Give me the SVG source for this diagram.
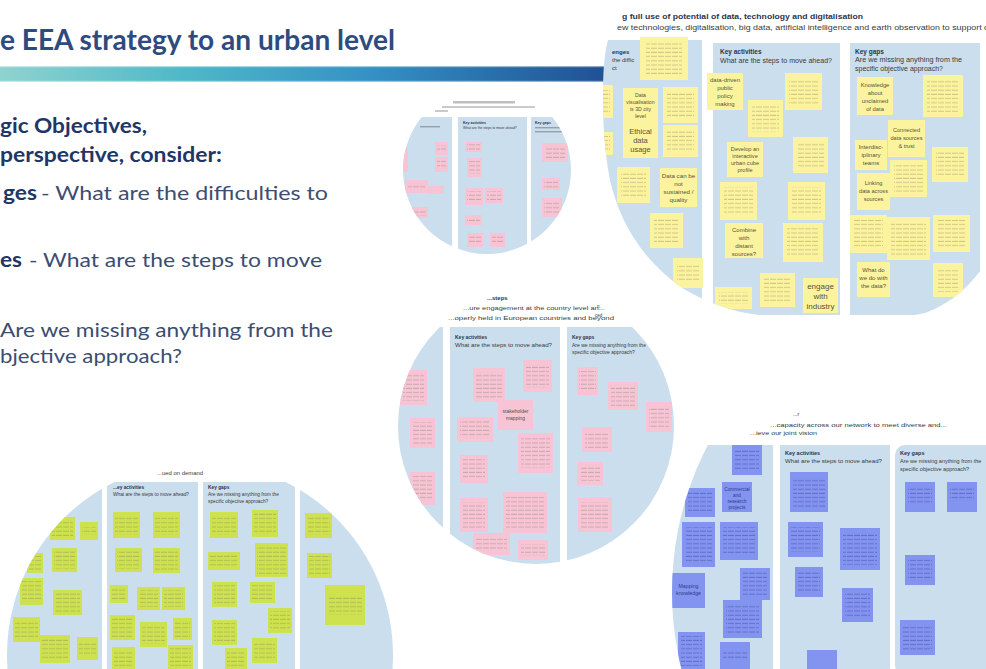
<svg xmlns="http://www.w3.org/2000/svg" width="986" height="669" viewBox="0 0 986 669">
  <defs>
    <style>
      .ttl{font-family:Lato,"Liberation Sans",sans-serif;font-weight:700;font-size:29px;fill:#2d4b7e}
      .bd{font-family:Lato,"Liberation Sans",sans-serif;font-weight:700;font-size:20px;fill:#1f3666}
      .rg{font-family:Lato,"Liberation Sans",sans-serif;font-weight:400;font-size:20px;fill:#3c4d72}
      .pn{fill:#cadeed}
      .ny{fill:#fcf39e}
      .np{fill:#f6c4d4}
      .ng{fill:#cde24e}
      .nb{fill:#8394f0}
      .sc{fill:url(#scr)}
      .sb{fill:url(#scrb)}
      .hd{font-family:"Liberation Sans",Arial,sans-serif;fill:#3a3a3a}
      .hb{font-family:"Liberation Sans",Arial,sans-serif;fill:#2a3550;font-weight:700}
      .nt{font-family:"Liberation Sans",Arial,sans-serif;fill:#55533a;text-anchor:middle}
      .ntb{font-family:"Liberation Sans",Arial,sans-serif;fill:#2f3a8a;text-anchor:middle}
    </style>
    <linearGradient id="bar" x1="0" y1="0" x2="1" y2="0">
      <stop offset="0" stop-color="#8fd3cf"/>
      <stop offset="0.3" stop-color="#4fb8c8"/>
      <stop offset="0.6" stop-color="#3592c4"/>
      <stop offset="1" stop-color="#1f4f92"/>
    </linearGradient>
    <!-- faint line texture standing in for unreadable handwriting on notes -->
    <pattern id="scr" width="7" height="4.2" patternUnits="userSpaceOnUse">
      <rect x="0" y="1.5" width="6" height="0.9" fill="#77775f" opacity="0.4"/>
    </pattern>
    <pattern id="scrb" width="7" height="4.2" patternUnits="userSpaceOnUse">
      <rect x="0" y="1.5" width="6" height="0.9" fill="#2c3a8c" opacity="0.45"/>
    </pattern>
    <clipPath id="c1">
      <path d="M630,0 L986,0 L986,262 C972,285 952,303 925,313 L915,315 L760,315 C735,313 705,302 682,288 C645,262 620,225 610,180 C604,150 603,120 603,95 C603,55 606,25 630,0 Z"/>
    </clipPath>
    <clipPath id="c2"><circle cx="487" cy="170" r="84"/></clipPath>
    <clipPath id="c3"><circle cx="536" cy="426" r="138"/></clipPath>
    <clipPath id="c4"><circle cx="992" cy="592" r="320"/></clipPath>
    <clipPath id="c5"><circle cx="200" cy="655" r="193"/></clipPath>
  </defs>

  <rect width="986" height="669" fill="#ffffff"/>

  <!-- slide heading and colour band -->
  <g id="heading">
    <text class="ttl" x="0" y="50" textLength="395" lengthAdjust="spacingAndGlyphs">e EEA strategy to an urban level</text>
    <rect x="0" y="66" width="612" height="16" fill="url(#bar)"/>
    <rect x="0" y="66" width="612" height="1.2" fill="#ffffff" opacity="0.5"/>
    <rect x="0" y="80.8" width="612" height="1.2" fill="#ffffff" opacity="0.5"/>
  </g>

  <!-- instructions text -->
  <g id="instructions">
    <text class="bd" x="0" y="133" textLength="147" lengthAdjust="spacingAndGlyphs">gic Objectives,</text>
    <text class="bd" x="0" y="162" textLength="222" lengthAdjust="spacingAndGlyphs">perspective, consider:</text>
    <text class="bd" x="3" y="200" textLength="34" lengthAdjust="spacingAndGlyphs">ges</text>
    <text class="rg" x="41" y="200" textLength="287" lengthAdjust="spacingAndGlyphs">- What are the difficulties to</text>
    <text class="bd" x="0" y="267" textLength="22" lengthAdjust="spacingAndGlyphs">es</text>
    <text class="rg" x="29" y="267" textLength="293" lengthAdjust="spacingAndGlyphs">- What are the steps to move</text>
    <text class="rg" x="0" y="337" textLength="333" lengthAdjust="spacingAndGlyphs">Are we missing anything from the</text>
    <text class="rg" x="0" y="363" textLength="182" lengthAdjust="spacingAndGlyphs">bjective approach?</text>
  </g>

  <!-- board: data, technology and digitalisation (yellow notes) -->
  <g id="board-data" clip-path="url(#c1)">
    <text class="hb" x="622" y="19" font-size="7.5" textLength="241" lengthAdjust="spacingAndGlyphs">g full use of potential of data, technology and digitalisation</text>
    <text class="hd" x="617" y="30" font-size="6.5" textLength="372" lengthAdjust="spacingAndGlyphs">ew technologies, digitalisation, big data, artificial intelligence and earth observation to support d</text>
    <rect class="pn" x="595" y="40" width="107" height="280"/>
    <rect class="pn" x="713" y="43" width="127" height="272"/>
    <rect class="pn" x="850" y="43" width="130" height="272"/>
    <text class="hb" x="612" y="54" font-size="6">enges</text>
    <text class="hd" x="612" y="62" font-size="6">the diffic</text>
    <text class="hd" x="612" y="70" font-size="6">ct</text>
    <text class="hb" x="720" y="54" font-size="6.5">Key activities</text>
    <text class="hd" x="720" y="63" font-size="6.5" textLength="112" lengthAdjust="spacingAndGlyphs">What are the steps to move ahead?</text>
    <text class="hb" x="855" y="54" font-size="6.5">Key gaps</text>
    <text class="hd" x="855" y="62" font-size="6.5" textLength="107" lengthAdjust="spacingAndGlyphs">Are we missing anything from the</text>
    <text class="hd" x="855" y="71" font-size="6.5" textLength="88" lengthAdjust="spacingAndGlyphs">specific objective approach?</text>

    <rect class="ny" x="640" y="37" width="48" height="43"/><rect class="sc" x="646" y="42" width="36" height="33"/>
    <rect class="ny" x="598" y="85" width="15" height="33"/><rect class="sc" x="600" y="90" width="10" height="22"/>
    <rect class="ny" x="598" y="132" width="15" height="23"/><rect class="sc" x="600" y="136" width="10" height="14"/>
    <rect class="ny" x="623" y="88" width="35" height="36"/>
    <text class="nt" font-size="5.2"><tspan x="640.5" y="97">Data</tspan><tspan x="640.5" y="104">visualisation</tspan><tspan x="640.5" y="111">is 3D city</tspan><tspan x="640.5" y="118">level</tspan></text>
    <rect class="ny" x="623" y="124" width="35" height="34"/>
    <text class="nt" font-size="7.5"><tspan x="640.5" y="134">Ethical</tspan><tspan x="640.5" y="143">data</tspan><tspan x="640.5" y="152">usage</tspan></text>
    <rect class="ny" x="663" y="87" width="35" height="36"/><rect class="sc" x="667" y="92" width="27" height="26"/>
    <rect class="ny" x="663" y="125" width="35" height="32"/><rect class="sc" x="667" y="131" width="27" height="20"/>
    <rect class="ny" x="617" y="167" width="33" height="36"/><rect class="sc" x="621" y="172" width="25" height="26"/>
    <rect class="ny" x="660" y="168" width="37" height="39"/>
    <text class="nt" font-size="6.2"><tspan x="678.5" y="178">Data can be</tspan><tspan x="678.5" y="186">not</tspan><tspan x="678.5" y="194">sustained /</tspan><tspan x="678.5" y="202">quality</tspan></text>
    <rect class="ny" x="650" y="213" width="33" height="35"/><rect class="sc" x="654" y="219" width="25" height="24"/>
    <rect class="ny" x="673" y="258" width="30" height="30"/><rect class="sc" x="677" y="264" width="22" height="18"/>

    <rect class="ny" x="707" y="73" width="36" height="37"/>
    <text class="nt" font-size="6"><tspan x="725" y="82">data-driven</tspan><tspan x="725" y="90">public</tspan><tspan x="725" y="98">policy</tspan><tspan x="725" y="106">making</tspan></text>
    <rect class="ny" x="748" y="100" width="35" height="37"/><rect class="sc" x="752" y="105" width="27" height="27"/>
    <rect class="ny" x="785" y="73" width="37" height="37"/><rect class="sc" x="789" y="78" width="29" height="27"/>
    <rect class="ny" x="727" y="142" width="36" height="35"/>
    <text class="nt" font-size="5.6"><tspan x="745" y="151">Develop an</tspan><tspan x="745" y="158">interactive</tspan><tspan x="745" y="165">urban cube</tspan><tspan x="745" y="172">profile</tspan></text>
    <rect class="ny" x="793" y="137" width="35" height="36"/><rect class="sc" x="797" y="142" width="27" height="26"/>
    <rect class="ny" x="720" y="182" width="37" height="38"/><rect class="sc" x="724" y="187" width="29" height="28"/>
    <rect class="ny" x="788" y="182" width="37" height="38"/><rect class="sc" x="792" y="187" width="29" height="28"/>
    <rect class="ny" x="725" y="223" width="38" height="35"/>
    <text class="nt" font-size="6"><tspan x="744" y="232">Combine</tspan><tspan x="744" y="240">with</tspan><tspan x="744" y="248">distant</tspan><tspan x="744" y="256">sources?</tspan></text>
    <rect class="ny" x="783" y="223" width="40" height="39"/><rect class="sc" x="787" y="228" width="32" height="29"/>
    <rect class="ny" x="760" y="273" width="35" height="34"/><rect class="sc" x="764" y="278" width="27" height="24"/>
    <rect class="ny" x="715" y="287" width="37" height="22"/><rect class="sc" x="719" y="292" width="29" height="12"/>
    <rect class="ny" x="803" y="278" width="35" height="35"/>
    <text class="nt" font-size="8"><tspan x="820.5" y="289">engage</tspan><tspan x="820.5" y="299">with</tspan><tspan x="820.5" y="309">industry</tspan></text>

    <rect class="ny" x="857" y="77" width="36" height="38"/>
    <text class="nt" font-size="5.8"><tspan x="875" y="87">Knowledge</tspan><tspan x="875" y="95">about</tspan><tspan x="875" y="103">unclaimed</tspan><tspan x="875" y="111">of data</tspan></text>
    <rect class="ny" x="923" y="75" width="40" height="42"/><rect class="sc" x="927" y="80" width="32" height="32"/>
    <rect class="ny" x="888" y="120" width="37" height="37"/>
    <text class="nt" font-size="5.6"><tspan x="906.5" y="132">Connected</tspan><tspan x="906.5" y="140">data sources</tspan><tspan x="906.5" y="148">&amp; trust</tspan></text>
    <rect class="ny" x="855" y="140" width="32" height="30"/>
    <text class="nt" font-size="6"><tspan x="871" y="149">Interdisc-</tspan><tspan x="871" y="157">iplinary</tspan><tspan x="871" y="165">teams</tspan></text>
    <rect class="ny" x="890" y="160" width="37" height="37"/><rect class="sc" x="894" y="165" width="29" height="27"/>
    <rect class="ny" x="932" y="147" width="36" height="35"/><rect class="sc" x="936" y="152" width="28" height="25"/>
    <rect class="ny" x="857" y="173" width="33" height="37"/>
    <text class="nt" font-size="5.6"><tspan x="873.5" y="185">Linking</tspan><tspan x="873.5" y="193">data across</tspan><tspan x="873.5" y="201">sources</tspan></text>
    <rect class="ny" x="850" y="215" width="37" height="38"/><rect class="sc" x="854" y="220" width="29" height="28"/>
    <rect class="ny" x="887" y="217" width="43" height="43"/><rect class="sc" x="891" y="222" width="35" height="33"/>
    <rect class="ny" x="933" y="215" width="37" height="37"/><rect class="sc" x="937" y="220" width="29" height="27"/>
    <rect class="ny" x="857" y="262" width="33" height="35"/>
    <text class="nt" font-size="6"><tspan x="873.5" y="272">What do</tspan><tspan x="873.5" y="280">we do with</tspan><tspan x="873.5" y="288">the data?</tspan></text>
    <rect class="ny" x="933" y="263" width="30" height="34"/><rect class="sc" x="937" y="268" width="22" height="24"/>
  </g>

  <!-- board: pink notes, small -->
  <g id="board-sustainability" clip-path="url(#c2)">
    <rect x="453" y="101" width="62" height="2.5" fill="#8a8a8a" opacity="0.55"/>
    <rect x="442" y="106" width="93" height="2" fill="#8a8a8a" opacity="0.45"/>
    <rect x="435" y="110" width="13" height="2" fill="#8a8a8a" opacity="0.45"/>
    <rect class="pn" x="398" y="117" width="54" height="145"/>
    <rect class="pn" x="458" y="117" width="69" height="145"/>
    <rect class="pn" x="531" y="117" width="45" height="145"/>
    <text class="hb" x="463" y="124" font-size="3.6">Key activities</text>
    <text class="hd" x="463" y="129" font-size="3.4">What are the steps to move ahead?</text>
    <text class="hb" x="535" y="124" font-size="3.6">Key gaps</text>
    <rect x="535" y="127" width="30" height="1.4" fill="#555" opacity="0.45"/>
    <rect x="535" y="131" width="28" height="1.4" fill="#555" opacity="0.45"/>
    <rect x="420" y="126" width="20" height="1.4" fill="#555" opacity="0.45"/>
    <rect class="np" x="435" y="142" width="13" height="13"/><rect class="sc" x="437" y="145" width="9" height="7"/>
    <rect class="np" x="435" y="157" width="13" height="15"/><rect class="sc" x="437" y="160" width="9" height="9"/>
    <rect class="np" x="400" y="148" width="8" height="24"/>
    <rect class="np" x="405" y="180" width="23" height="13"/><rect class="sc" x="408" y="183" width="17" height="7"/>
    <rect class="np" x="428" y="186" width="16" height="8"/>
    <rect class="np" x="410" y="207" width="18" height="11"/><rect class="sc" x="412" y="209" width="14" height="7"/>
    <rect class="np" x="465" y="142" width="17" height="10"/><rect class="sc" x="467" y="144" width="13" height="6"/>
    <rect class="np" x="467" y="158" width="15" height="19"/><rect class="sc" x="469" y="161" width="11" height="13"/>
    <rect class="np" x="465" y="188" width="18" height="17"/><rect class="sc" x="467" y="191" width="14" height="11"/>
    <rect class="np" x="485" y="188" width="18" height="15"/><rect class="sc" x="487" y="191" width="14" height="9"/>
    <rect class="np" x="465" y="215" width="17" height="10"/><rect class="sc" x="467" y="217" width="13" height="6"/>
    <rect class="np" x="467" y="233" width="16" height="14"/><rect class="sc" x="469" y="236" width="12" height="8"/>
    <rect class="np" x="490" y="233" width="15" height="14"/><rect class="sc" x="492" y="236" width="11" height="8"/>
    <rect class="np" x="542" y="143" width="26" height="19"/><rect class="sc" x="545" y="146" width="20" height="13"/>
    <rect class="np" x="542" y="178" width="18" height="12"/><rect class="sc" x="544" y="180" width="14" height="8"/>
    <rect class="np" x="542" y="198" width="20" height="19"/><rect class="sc" x="544" y="201" width="16" height="13"/>
  </g>

  <!-- board: stakeholder engagement (pink notes) -->
  <g id="board-engagement" clip-path="url(#c3)">
    <text class="hb" x="487" y="300" font-size="6">...steps</text>
    <text class="hd" x="463" y="310" font-size="5.5" textLength="142" lengthAdjust="spacingAndGlyphs">...ure engagement at the country level an...</text>
    <text class="hd" x="448" y="320" font-size="5.5" textLength="166" lengthAdjust="spacingAndGlyphs">...operly held in European countries and beyond</text>
    <rect class="pn" x="390" y="327" width="53" height="250"/>
    <rect class="pn" x="450" y="327" width="110" height="250"/>
    <rect class="pn" x="567" y="327" width="115" height="250"/>
    <text class="hb" x="455" y="339" font-size="5">Key activities</text>
    <text class="hd" x="455" y="347" font-size="5" textLength="97" lengthAdjust="spacingAndGlyphs">What are the steps to move ahead?</text>
    <text class="hb" x="572" y="339" font-size="5">Key gaps</text>
    <text class="hd" x="572" y="347" font-size="5">Are we missing anything from the</text>
    <text class="hd" x="572" y="354" font-size="5">specific objective approach?</text>
    <rect class="np" x="400" y="370" width="27" height="35"/><rect class="sc" x="403" y="374" width="21" height="27"/>
    <rect class="np" x="410" y="418" width="25" height="30"/><rect class="sc" x="413" y="422" width="19" height="22"/>
    <rect class="np" x="410" y="472" width="25" height="33"/><rect class="sc" x="413" y="476" width="19" height="25"/>
    <rect class="np" x="473" y="368" width="32" height="34"/><rect class="sc" x="476" y="372" width="26" height="26"/>
    <rect class="np" x="523" y="360" width="29" height="32"/><rect class="sc" x="526" y="364" width="23" height="24"/>
    <rect class="np" x="498" y="400" width="35" height="30"/>
    <text class="nt" font-size="5"><tspan x="515.5" y="413">stakeholder</tspan><tspan x="515.5" y="420">mapping</tspan></text>
    <rect class="np" x="457" y="417" width="36" height="25"/><rect class="sc" x="460" y="421" width="30" height="17"/>
    <rect class="np" x="518" y="433" width="35" height="40"/><rect class="sc" x="521" y="438" width="29" height="30"/>
    <rect class="np" x="460" y="455" width="28" height="28"/><rect class="sc" x="463" y="459" width="22" height="20"/>
    <rect class="np" x="503" y="492" width="44" height="41"/><rect class="sc" x="506" y="497" width="38" height="31"/>
    <rect class="np" x="460" y="498" width="28" height="34"/><rect class="sc" x="463" y="502" width="22" height="26"/>
    <rect class="np" x="473" y="533" width="37" height="22"/><rect class="sc" x="476" y="537" width="31" height="14"/>
    <rect class="np" x="518" y="540" width="30" height="20"/><rect class="sc" x="521" y="544" width="24" height="12"/>
    <rect class="np" x="577" y="367" width="21" height="28"/><rect class="sc" x="579" y="371" width="17" height="20"/>
    <rect class="np" x="608" y="382" width="30" height="28"/><rect class="sc" x="611" y="386" width="24" height="20"/>
    <rect class="np" x="646" y="402" width="26" height="30"/><rect class="sc" x="649" y="406" width="20" height="22"/>
    <rect class="np" x="582" y="427" width="30" height="25"/><rect class="sc" x="585" y="431" width="24" height="17"/>
    <rect class="np" x="577" y="462" width="26" height="23"/><rect class="sc" x="580" y="466" width="20" height="15"/>
    <rect class="np" x="578" y="498" width="34" height="34"/><rect class="sc" x="581" y="502" width="28" height="26"/>
  </g>

  <!-- board: capacity across the network (blue notes) -->
  <g id="board-capacity" clip-path="url(#c4)">
    <text class="hd" x="793" y="416" font-size="5.5">...r</text>
    <text class="hd" x="770" y="427" font-size="5.5" textLength="177" lengthAdjust="spacingAndGlyphs">...capacity across our network to meet diverse and...</text>
    <text class="hd" x="750" y="435" font-size="5.5" textLength="67" lengthAdjust="spacingAndGlyphs">...ieve our joint vision</text>
    <rect class="pn" x="660" y="445" width="113" height="230"/>
    <rect class="pn" x="780" y="445" width="110" height="230"/>
    <rect class="pn" x="895" y="445" width="100" height="230" rx="10"/>
    <text class="hb" x="785" y="455" font-size="5.5">Key activities</text>
    <text class="hd" x="785" y="463" font-size="5.5" textLength="97" lengthAdjust="spacingAndGlyphs">What are the steps to move ahead?</text>
    <text class="hb" x="900" y="455" font-size="5.5">Key gaps</text>
    <text class="hd" x="900" y="463" font-size="5.5">Are we missing anything from the</text>
    <text class="hd" x="900" y="471" font-size="5.5">specific objective approach?</text>
    <rect class="nb" x="732" y="445" width="30" height="30"/><rect class="sb" x="735" y="448" width="24" height="23"/>
    <rect class="nb" x="722" y="482" width="30" height="30"/>
    <text class="ntb" font-size="4.8"><tspan x="737" y="491">Commercial</tspan><tspan x="737" y="497">and</tspan><tspan x="737" y="503">research</tspan><tspan x="737" y="509">projects</tspan></text>
    <rect class="nb" x="685" y="488" width="30" height="29"/><rect class="sb" x="688" y="492" width="24" height="21"/>
    <rect class="nb" x="682" y="522" width="33" height="45"/><rect class="sb" x="685" y="527" width="27" height="35"/>
    <rect class="nb" x="720" y="522" width="38" height="38"/><rect class="sb" x="723" y="527" width="32" height="28"/>
    <rect class="nb" x="672" y="573" width="33" height="35"/>
    <text class="ntb" font-size="5.2"><tspan x="688.5" y="588">Mapping</tspan><tspan x="688.5" y="595">knowledge</tspan></text>
    <rect class="nb" x="740" y="568" width="30" height="32"/><rect class="sb" x="743" y="572" width="24" height="24"/>
    <rect class="nb" x="723" y="600" width="39" height="38"/><rect class="sb" x="726" y="605" width="33" height="28"/>
    <rect class="nb" x="678" y="632" width="27" height="37"/><rect class="sb" x="681" y="636" width="21" height="30"/>
    <rect class="nb" x="720" y="642" width="30" height="27"/><rect class="sb" x="723" y="652" width="24" height="6"/>
    <rect class="nb" x="790" y="472" width="38" height="40"/><rect class="sb" x="793" y="477" width="32" height="30"/>
    <rect class="nb" x="788" y="522" width="35" height="35"/><rect class="sb" x="791" y="527" width="29" height="25"/>
    <rect class="nb" x="840" y="528" width="40" height="42"/><rect class="sb" x="843" y="533" width="34" height="32"/>
    <rect class="nb" x="795" y="567" width="28" height="30"/><rect class="sb" x="798" y="572" width="22" height="20"/>
    <rect class="nb" x="842" y="588" width="31" height="34"/><rect class="sb" x="845" y="592" width="25" height="26"/>
    <rect class="nb" x="807" y="650" width="30" height="19"/>
    <rect class="nb" x="905" y="482" width="30" height="30"/><rect class="sb" x="908" y="487" width="24" height="18"/>
    <rect class="nb" x="947" y="482" width="30" height="30"/><rect class="sb" x="950" y="487" width="24" height="14"/>
    <rect class="nb" x="905" y="555" width="30" height="30"/><rect class="sb" x="908" y="559" width="24" height="22"/>
    <rect class="nb" x="900" y="620" width="35" height="35"/><rect class="sb" x="903" y="625" width="29" height="25"/>
  </g>

  <!-- board: services on demand (green notes) -->
  <g id="board-demand" clip-path="url(#c5)">
    <text class="hd" x="157" y="475" font-size="5.5" textLength="46" lengthAdjust="spacingAndGlyphs">...ued on demand</text>
    <rect class="pn" x="0" y="482" width="102" height="200"/>
    <rect class="pn" x="107" y="482" width="91" height="200"/>
    <rect class="pn" x="203" y="482" width="92" height="200"/>
    <rect class="pn" x="300" y="482" width="100" height="200"/>
    <text class="hb" x="113" y="489" font-size="4.8">...ey activities</text>
    <text class="hd" x="113" y="496" font-size="4.8">What are the steps to move ahead?</text>
    <text class="hb" x="208" y="489" font-size="4.8">Key gaps</text>
    <text class="hd" x="208" y="496" font-size="4.8">Are we missing anything from the</text>
    <text class="hd" x="208" y="503" font-size="4.8">specific objective approach?</text>
    <rect class="ng" x="50" y="517" width="25" height="23"/><rect class="sc" x="52" y="520" width="21" height="17"/>
    <rect class="ng" x="80" y="522" width="18" height="18"/><rect class="sc" x="82" y="527" width="14" height="8"/>
    <rect class="ng" x="52" y="548" width="25" height="24"/><rect class="sc" x="54" y="551" width="21" height="18"/>
    <rect class="ng" x="27" y="553" width="16" height="20"/><rect class="sc" x="29" y="556" width="12" height="14"/>
    <rect class="ng" x="20" y="578" width="23" height="27"/><rect class="sc" x="22" y="581" width="19" height="21"/>
    <rect class="ng" x="53" y="590" width="29" height="25"/><rect class="sc" x="55" y="593" width="25" height="19"/>
    <rect class="ng" x="13" y="617" width="27" height="25"/><rect class="sc" x="15" y="620" width="23" height="19"/>
    <rect class="ng" x="40" y="635" width="30" height="28"/><rect class="sc" x="42" y="638" width="26" height="22"/>
    <rect class="ng" x="77" y="637" width="21" height="23"/><rect class="sc" x="79" y="641" width="17" height="15"/>
    <rect class="ng" x="113" y="512" width="27" height="26"/><rect class="sc" x="115" y="515" width="23" height="20"/>
    <rect class="ng" x="153" y="512" width="27" height="26"/><rect class="sc" x="155" y="515" width="23" height="20"/>
    <rect class="ng" x="115" y="548" width="27" height="24"/><rect class="sc" x="117" y="551" width="23" height="18"/>
    <rect class="ng" x="153" y="548" width="27" height="25"/><rect class="sc" x="155" y="551" width="23" height="19"/>
    <rect class="ng" x="110" y="585" width="18" height="18"/><rect class="sc" x="112" y="588" width="14" height="12"/>
    <rect class="ng" x="137" y="587" width="23" height="23"/><rect class="sc" x="139" y="590" width="19" height="17"/>
    <rect class="ng" x="162" y="587" width="23" height="23"/><rect class="sc" x="164" y="590" width="19" height="17"/>
    <rect class="ng" x="110" y="615" width="25" height="25"/><rect class="sc" x="112" y="618" width="21" height="19"/>
    <rect class="ng" x="140" y="622" width="27" height="25"/><rect class="sc" x="142" y="625" width="23" height="19"/>
    <rect class="ng" x="173" y="618" width="19" height="22"/><rect class="sc" x="175" y="621" width="15" height="16"/>
    <rect class="ng" x="112" y="647" width="23" height="22"/><rect class="sc" x="114" y="650" width="19" height="16"/>
    <rect class="ng" x="168" y="645" width="25" height="24"/><rect class="sc" x="170" y="648" width="21" height="18"/>
    <rect class="ng" x="210" y="512" width="28" height="26"/><rect class="sc" x="212" y="515" width="24" height="20"/>
    <rect class="ng" x="252" y="510" width="26" height="27"/><rect class="sc" x="254" y="513" width="22" height="21"/>
    <rect class="ng" x="208" y="552" width="32" height="18"/><rect class="sc" x="210" y="555" width="28" height="12"/>
    <rect class="ng" x="255" y="543" width="33" height="34"/><rect class="sc" x="257" y="546" width="29" height="28"/>
    <rect class="ng" x="212" y="582" width="25" height="25"/><rect class="sc" x="214" y="585" width="21" height="19"/>
    <rect class="ng" x="250" y="582" width="25" height="21"/><rect class="sc" x="252" y="585" width="21" height="15"/>
    <rect class="ng" x="212" y="620" width="25" height="25"/><rect class="sc" x="214" y="623" width="21" height="19"/>
    <rect class="ng" x="268" y="608" width="24" height="25"/><rect class="sc" x="270" y="611" width="20" height="19"/>
    <rect class="ng" x="225" y="648" width="22" height="21"/><rect class="sc" x="227" y="651" width="18" height="15"/>
    <rect class="ng" x="252" y="638" width="25" height="25"/><rect class="sc" x="254" y="641" width="21" height="19"/>
    <rect class="ng" x="305" y="513" width="27" height="25"/><rect class="sc" x="307" y="516" width="23" height="19"/>
    <rect class="ng" x="307" y="553" width="25" height="25"/><rect class="sc" x="309" y="556" width="21" height="19"/>
    <rect class="ng" x="325" y="585" width="40" height="40"/><rect class="sc" x="328" y="595" width="34" height="20"/>
  </g>

  <g id="footnote">
    <text class="hd" x="597" y="308" font-size="4.5">n.</text>
    <text class="hd" x="595" y="317" font-size="4.5">ced</text>
  </g>
</svg>
